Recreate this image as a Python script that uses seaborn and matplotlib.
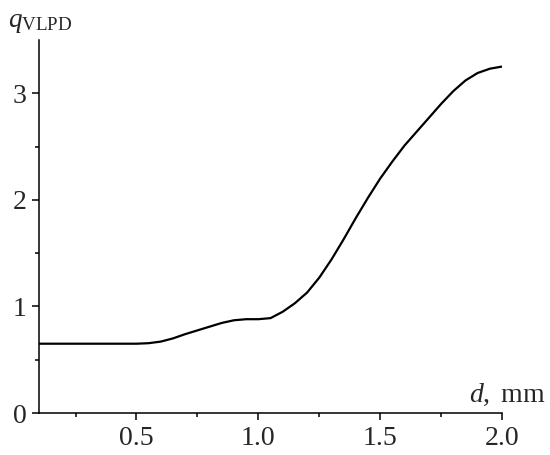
import numpy as np
import pandas as pd
import seaborn as sns
import matplotlib.pyplot as plt
from matplotlib import font_manager

# values
d_mm = [0.10, 0.20, 0.30, 0.40, 0.50, 0.55, 0.60, 0.65, 0.70, 0.75, 0.80, 0.85, 0.90,
        0.95, 1.00, 1.05, 1.10, 1.15, 1.20, 1.25, 1.30, 1.35, 1.40, 1.45, 1.50,
        1.55, 1.60, 1.65, 1.70, 1.75, 1.80, 1.85, 1.90, 1.95, 2.00]
q_vlpd = [0.65, 0.65, 0.65, 0.65, 0.65, 0.655, 0.67, 0.70, 0.74, 0.775, 0.81, 0.845, 0.87,
          0.88, 0.88, 0.89, 0.95, 1.03, 1.13, 1.27, 1.44, 1.63, 1.83, 2.02, 2.20,
          2.36, 2.51, 2.64, 2.77, 2.90, 3.02, 3.12, 3.19, 3.23, 3.25]
x_ticks = [0.5, 1.0, 1.5, 2.0]
x_ticklabels = ["0.5", "1.0", "1.5", "2.0"]
y_ticks = [0, 1, 2, 3]

df = pd.DataFrame({"d": d_mm, "q": q_vlpd})

# pick a Times-like serif that is actually installed
names = {f.name for f in font_manager.fontManager.ttflist}
serif = "DejaVu Serif"
for cand in ["Liberation Serif", "Times New Roman", "Nimbus Roman", "FreeSerif"]:
    if cand in names:
        serif = cand
        break

sns.set_style("ticks")
plt.rcParams["font.family"] = [serif, "DejaVu Serif"]
plt.rcParams["mathtext.fontset"] = "custom"
plt.rcParams["mathtext.rm"] = serif
plt.rcParams["mathtext.it"] = serif + ":italic"

fig = plt.figure(figsize=(5.5, 4.55), dpi=100)
ax = fig.add_axes([0.0709, 0.0923, 0.842, 0.820])

sns.lineplot(data=df, x="d", y="q", ax=ax, color="black", linewidth=1.6)

ax.set_xlim(0.1, 2.0)
ax.set_ylim(0, 3.5)
ax.set_xticks(x_ticks)
ax.set_xticklabels(x_ticklabels)
ax.set_yticks(y_ticks)
ax.set_xticks([0.25, 0.75, 1.25, 1.75], minor=True)
ax.set_yticks([0.5, 1.5, 2.5], minor=True)
ax.tick_params(which="major", length=5, width=1.1, labelsize=20, color="black", pad=4)
ax.tick_params(which="minor", length=3, width=1.1, color="black")
ax.set_xlabel("")
ax.set_ylabel("")
sns.despine(ax=ax)
for s in ["left", "bottom"]:
    ax.spines[s].set_linewidth(1.1)
    ax.spines[s].set_color("black")

fig.text(8 / 550, 1 - 27 / 455, r"$q_{\mathrm{VLPD}}$", fontsize=19.5, va="baseline", ha="left")
fig.text(546 / 550, 1 - 402 / 455, r"$d,$ mm", fontsize=20, va="baseline", ha="right")

fig.savefig("out.png", dpi=100)
